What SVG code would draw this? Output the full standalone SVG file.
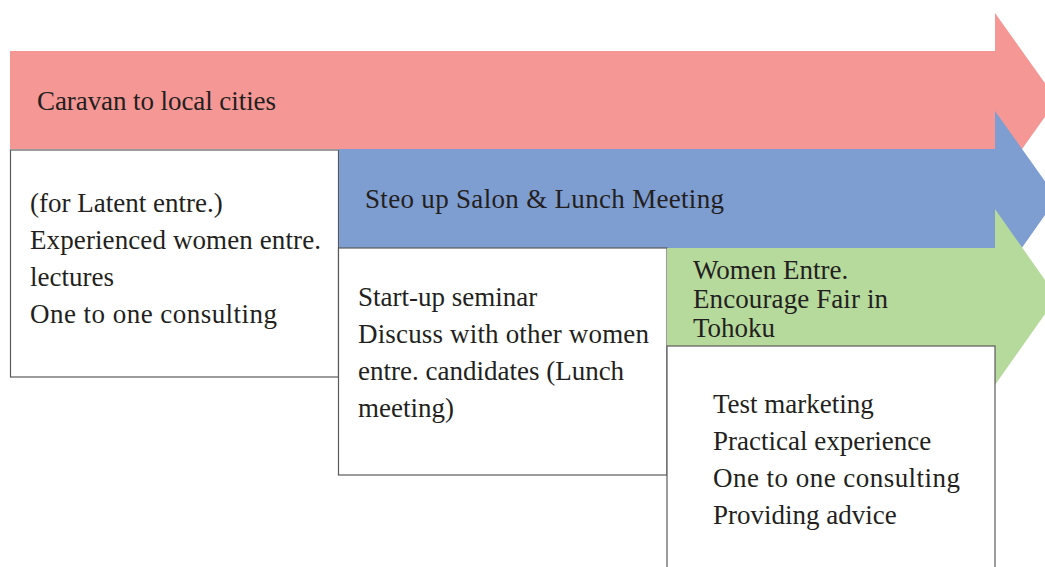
<svg xmlns="http://www.w3.org/2000/svg" width="1045" height="567" viewBox="0 0 1045 567">
<style>
text{font-family:"Liberation Serif","Times New Roman",serif;font-size:27px;fill:#231f20}
.box{fill:#ffffff;stroke:#5a5a5a;stroke-width:1.2}
.red{fill:#f59795}
.blue{fill:#7e9dd1}
.green{fill:#b6d99c}
</style>
<rect width="1045" height="567" fill="#ffffff"/>
<g id="arrow-caravan">
<polygon class="red" points="10,51 995,51 995,13 1057,100 995,187 995,149 10,149"/>
<text x="37" y="110" textLength="239">Caravan to local cities</text>
</g>
<g id="box-latent">
<rect class="box" x="10.5" y="150" width="328" height="227"/>
<text x="30" y="212">(for Latent entre.)</text>
<text x="30" y="249" textLength="291">Experienced women entre.</text>
<text x="30" y="286">lectures</text>
<text x="30" y="323" textLength="247">One to one consulting</text>
</g>
<g id="arrow-stepup">
<polygon class="blue" points="339,149 995,149 995,111 1057,198 995,286 995,248 339,248"/>
<text x="365" y="208" textLength="359">Steo up Salon &amp; Lunch Meeting</text>
</g>
<g id="box-startup">
<rect class="box" x="338.5" y="248" width="328.5" height="227"/>
<text x="358" y="306">Start-up seminar</text>
<text x="358" y="343" textLength="291">Discuss with other women</text>
<text x="358" y="380">entre. candidates (Lunch</text>
<text x="358" y="417">meeting)</text>
</g>
<g id="arrow-fair">
<polygon class="green" points="667,248 995,248 995,209 1057,297 995,385 995,346 667,346"/>
<text x="693" y="279">Women Entre.</text>
<text x="693" y="308" textLength="195">Encourage Fair in</text>
<text x="693" y="337">Tohoku</text>
</g>
<g id="box-fair">
<rect class="box" x="667" y="346" width="328" height="240"/>
<text x="713" y="413">Test marketing</text>
<text x="713" y="450">Practical experience</text>
<text x="713" y="487" textLength="247">One to one consulting</text>
<text x="713" y="524">Providing advice</text>
</g>
<g id="connectors"/>
</svg>
